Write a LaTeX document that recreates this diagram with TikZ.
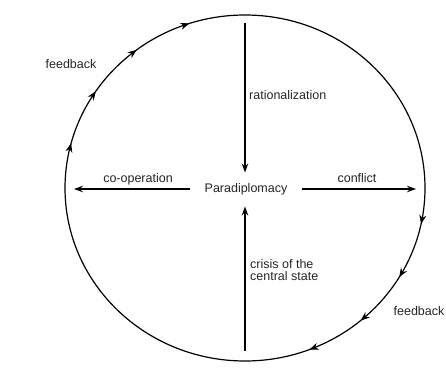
\documentclass[tikz,border=0pt]{standalone}
\usepackage{fontspec}
\setmainfont{Liberation Sans}
\usetikzlibrary{arrows.meta}
\begin{document}
\begin{tikzpicture}[x=1pt,y=-1pt,
  lbl/.style={font=\fontsize{12.5}{12}\selectfont, inner sep=0pt, text=black!85},
  axis/.style={line width=1.3pt, -{Stealth[length=9pt,width=6.5pt]}},
  ring/.style={line width=1.2pt},
  fbtip/.style={line width=1.2pt, -{Stealth[length=9pt,width=7pt]}}
]
\useasboundingbox (0,0) rectangle (446,367);
\fill[white] (0,0) rectangle (446,367);
% circle (ellipse)
\draw[ring] (245,188) ellipse [x radius=180, y radius=173];
% feedback arrowheads on the ring (clockwise)
\foreach \a in {165,146,127,108,-12,-31,-50,-69}{
  \draw[fbtip] ({245+180*cos(\a+2)},{188-173*sin(\a+2)}) -- ({245+180*cos(\a)},{188-173*sin(\a)});
}
% centre
\node[lbl, inner xsep=14pt, inner ysep=11pt] (P) at (246,189.5) {Paradiplomacy};
\coordinate (T) at (245,23);
\coordinate (B) at (245,351);
\coordinate (L) at (74,189);
\coordinate (R) at (416,189);
\draw[axis] (T) -- (P.north -| T);
\draw[axis] (B) -- (P.south -| B);
\draw[axis] (P.west |- L) -- (L);
\draw[axis] (P.east |- R) -- (R);
% labels
\node[lbl, anchor=west] (rat) at (249,95) {rationalization};
\node[lbl] (con) at (357,178) {conflict};
\node[lbl] (coop) at (138,179) {co-operation};
\node[lbl, anchor=west, align=left] (cri) at (250,270) {crisis of the\\central state};
\node[lbl] (fb1) at (71,64) {feedback};
\node[lbl] (fb2) at (419,311) {feedback};
\end{tikzpicture}
\end{document}
